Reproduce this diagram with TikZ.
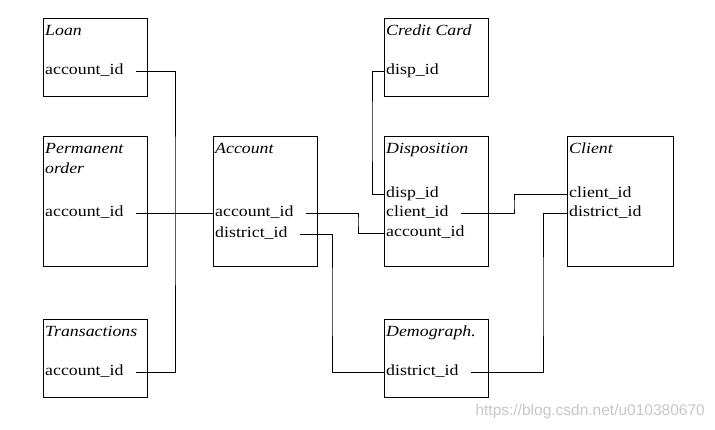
\documentclass[tikz,border=0pt]{standalone}
\usepackage{fontspec}
\setmainfont[FakeStretch=1.15]{Liberation Serif}
\newfontfamily\wmfont{Liberation Sans}
\usetikzlibrary{calc}
\begin{document}
\begin{tikzpicture}[x=1pt,y=-1pt,
  font=\fontsize{15.5}{20}\selectfont,
  tbl/.style={draw, line width=1pt, anchor=north west, inner sep=0, minimum width=104pt},
  small/.style={minimum height=78pt},
  tall/.style={minimum height=130pt},
  ttl/.style={anchor=base west, inner sep=0, font=\fontsize{15.5}{20}\selectfont\itshape},
  fld/.style={anchor=west, inner xsep=2pt, inner ysep=0, text height=10pt, text depth=3pt},
  conn/.style={line width=1pt},
]
\useasboundingbox (0,0) rectangle (715,429);

% boxes
\node[tbl,small] (loan)  at (43,18)  {};
\node[tbl,tall]  (perm)  at (43,136) {};
\node[tbl,small] (trans) at (43,319) {};
\node[tbl,tall]  (acc)   at (213,136) {};
\node[tbl,small] (cc)    at (384,18) {};
\node[tbl,tall]  (disp)  at (384,136) {};
\node[tbl,small] (demo)  at (384,319) {};
\node[tbl,tall,minimum width=106pt] (cli) at (567,136) {};

% titles
\node[ttl] (loant)  at (45,35)  {Loan};
\node[ttl] (permt1) at (45,153) {Permanent};
\node[ttl] (permt2) at (45,173) {order};
\node[ttl] (transt) at (45,336) {Transactions};
\node[ttl] (acct)   at (215,153) {Account};
\node[ttl] (cct)    at (386,35) {Credit Card};
\node[ttl] (dispt)  at (386,153) {Disposition};
\node[ttl] (demot)  at (386,336) {Demograph.};
\node[ttl] (clit)   at (569,153) {Client};

% fields
\node[fld] (loanacc)  at (43,71)   {account\_id};
\node[fld] (permacc)  at (43,213)  {account\_id};
\node[fld] (transacc) at (43,372)  {account\_id};
\node[fld] (accacc)   at (213,213) {account\_id};
\node[fld] (accdist)  at (213,234) {district\_id};
\node[fld] (ccdisp)   at (384,71)  {disp\_id};
\node[fld] (dispdisp) at (384,194) {disp\_id};
\node[fld] (dispcli)  at (384,213) {client\_id};
\node[fld] (dispacc)  at (384,233) {account\_id};
\node[fld] (clicli)   at (567,194) {client\_id};
\node[fld] (clidist)  at (567,213) {district\_id};
\node[fld] (demodist) at (384,372) {district\_id};

% routing points
\coordinate (busA) at (175,200);
\coordinate (jogA) at (358,220);
\coordinate (jogB) at (332,300);
\coordinate (jogC) at (372,130);
\coordinate (jogD) at (514,205);
\coordinate (jogE) at (543,300);

% connectors
\draw[conn] ([xshift=10pt]loanacc.east) -| (busA) |- ([xshift=10pt]transacc.east);
\draw[conn] ([xshift=10pt]permacc.east) -- (accacc.west);
\draw[conn] ([xshift=10pt]accacc.east) -| (jogA) |- (dispacc.west);
\draw[conn] ([xshift=10pt]accdist.east) -| (jogB) |- (demodist.west);
\draw[conn] (ccdisp.west) -| (jogC) |- (dispdisp.west);
\draw[conn] ([xshift=10pt]dispcli.east) -| (jogD) |- (clicli.west);
\draw[conn] (clidist.west) -| (jogE) |- ([xshift=10pt]demodist.east);

% watermark
\node[anchor=east, inner sep=0, text=black!22, font=\wmfont\fontsize{15.5}{18}\selectfont] (wm) at (705,411) {https://blog.csdn.net/u010380670};
\end{tikzpicture}
\end{document}
